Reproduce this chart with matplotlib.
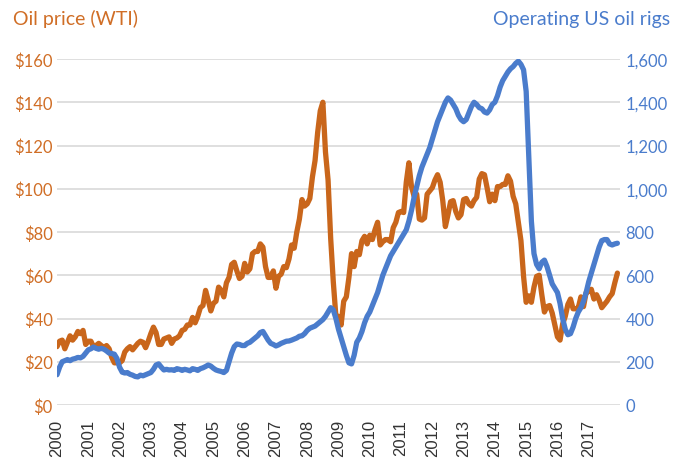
"""Oil price (WTI) vs operating US oil rigs, 2000-2017"""

import numpy as np
import matplotlib
matplotlib.use('Agg')
import matplotlib.pyplot as plt
from matplotlib.ticker import FuncFormatter

# monthly WTI price, $/bbl (one row per year, 2000..2017)
oil_price = [
    27, 29.5, 30, 26, 29, 32, 30, 31.5, 34, 33, 34.5, 28,
    29.5, 29.5, 27, 27.5, 28.5, 27.5, 26.5, 27.5, 26, 22, 19.5, 19.5,
    19.5, 20.5, 24.5, 26, 27, 25.5, 27, 28.5, 29.5, 29, 26.5, 29.5,
    33, 36, 33.5, 28, 28, 30.5, 31, 31.5, 28.5, 30.5, 31, 32,
    34.5, 35, 37, 37, 40.5, 38, 41, 45, 46, 53, 48.5, 43.5,
    47, 48, 54.5, 53, 50, 56.5, 59, 65, 66, 62, 58.5, 59.5,
    65.5, 61.5, 63, 70, 71, 71, 74.5, 73, 64, 59, 59, 62,
    54, 59.5, 60.5, 64, 63.5, 67.5, 74, 72.5, 80, 86, 95, 92,
    93, 95.5, 105.5, 113, 126, 136, 140, 117, 104, 77, 57, 41,
    41, 37, 48, 50, 59, 70, 64, 71, 69.5, 76, 78, 74.5,
    78.5, 76.5, 81, 84.5, 74, 75.5, 76.5, 76.5, 75.5, 82, 84.5, 89,
    89.5, 89, 103, 112, 101, 96.5, 97.5, 86, 85.5, 86.5, 97.5, 99,
    100.5, 104, 106.5, 103, 94.5, 82.5, 88, 94, 94.5, 89.5, 86.5, 88,
    95, 95.5, 93, 92, 94.5, 96, 104.5, 107, 106.5, 100.5, 94, 97.5,
    94.5, 101, 101, 102, 102, 106, 103.5, 96.5, 93, 84.5, 76, 59.5,
    47.5, 50.5, 47.5, 54.5, 59.5, 60, 51, 43, 45.5, 46, 42.5, 37,
    31.5, 30, 37.5, 41, 46.5, 49, 44.5, 44.5, 45, 50, 45.5, 52,
    52.5, 53.5, 49, 51, 48.5, 45, 46.5, 48, 50, 51.5, 56.5, 61,
]

# monthly count of operating US oil rigs
rig_count = [
    140, 175, 200, 205, 210, 205, 212, 215, 220, 218, 225, 240,
    255, 260, 268, 262, 258, 262, 258, 250, 240, 238, 235, 215,
    175, 152, 148, 150, 142, 138, 132, 130, 138, 135, 140, 145,
    150, 165, 185, 190, 175, 162, 165, 162, 163, 160, 168, 165,
    160, 165, 162, 158, 168, 165, 160, 168, 172, 178, 185, 180,
    170, 162, 158, 155, 150, 160, 200, 240, 270, 282, 280, 275,
    275, 285, 290, 300, 310, 320, 335, 340, 320, 300, 285, 280,
    273, 278, 285, 290, 295, 296, 300, 305, 310, 318, 320, 330,
    345, 355, 360, 365, 375, 385, 395, 410, 430, 450, 440, 400,
    350, 310, 270, 230, 195, 190, 230, 290, 310, 340, 380, 410,
    430, 460, 490, 520, 560, 600, 630, 660, 690, 710, 730, 750,
    770, 790, 810, 850, 900, 960, 1010, 1060, 1100, 1130, 1160, 1190,
    1230, 1270, 1310, 1340, 1370, 1400, 1420, 1410, 1390, 1370, 1340, 1320,
    1310, 1320, 1350, 1380, 1400, 1390, 1375, 1370, 1355, 1350, 1365, 1390,
    1400, 1430, 1470, 1500, 1520, 1540, 1555, 1565, 1580, 1590, 1575, 1550,
    1450, 1150, 850, 700, 650, 630, 660, 670, 640, 600, 560, 540,
    520, 470, 400, 350, 325, 330, 360, 400, 430, 450, 480, 520,
    570, 610, 650, 690, 730, 760, 765, 765, 745, 740, 745, 748,
]

years = list(range(2000, 2018))
price_ticks = [0, 20, 40, 60, 80, 100, 120, 140, 160]
rig_ticks = [0, 200, 400, 600, 800, 1000, 1200, 1400, 1600]

ORANGE = '#C9661B'
ORANGE_TEXT = '#D06E26'
BLUE = '#4A7CCC'
GRID = '#D9D9D9'

t = 2000 + np.arange(len(oil_price)) / 12

fig = plt.figure(figsize=(6.84, 4.64), dpi=100)
ax = fig.add_axes([57 / 684, 58 / 464, 563 / 684, 346 / 464])
ax2 = ax.twinx()

ax.plot(t, oil_price, color=ORANGE, lw=3.8, solid_capstyle='round',
        solid_joinstyle='round')
ax2.plot(t, rig_count, color=BLUE, lw=3.8, solid_capstyle='round',
         solid_joinstyle='round')

ax.set_xlim(2000, 2018)
ax.set_ylim(0, 160)
ax2.set_ylim(0, 1600)

ax.set_yticks(price_ticks)
ax2.set_yticks(rig_ticks)
ax.yaxis.set_major_formatter(FuncFormatter(lambda v, p: f'${v:.0f}'))
ax2.yaxis.set_major_formatter(FuncFormatter(lambda v, p: f'{v:,.0f}'))
ax.set_xticks(years)
ax.set_xticklabels([str(y) for y in years], rotation=90,
                   family='Liberation Sans', fontsize=12, color='#333333')

ax.grid(axis='y', color=GRID, lw=1.2)
ax.set_axisbelow(True)
for a in (ax, ax2):
    for s in a.spines.values():
        s.set_visible(False)

ax.tick_params(axis='x', length=0, pad=10)
ax.tick_params(axis='y', length=0, pad=3, labelsize=12,
               labelcolor=ORANGE_TEXT)
ax2.tick_params(axis='y', length=0, pad=4, labelsize=12, labelcolor=BLUE)
for lab in ax.get_yticklabels() + ax2.get_yticklabels():
    lab.set_family('Lato')

fig.text(13 / 684, 1 - 19 / 464, 'Oil price (WTI)', ha='left', va='center',
         fontsize=14, color=ORANGE_TEXT, family='Lato')
fig.text(670 / 684, 1 - 19 / 464, 'Operating US oil rigs', ha='right',
         va='center', fontsize=14, color=BLUE, family='Lato')

fig.savefig('out.png', dpi=100)
